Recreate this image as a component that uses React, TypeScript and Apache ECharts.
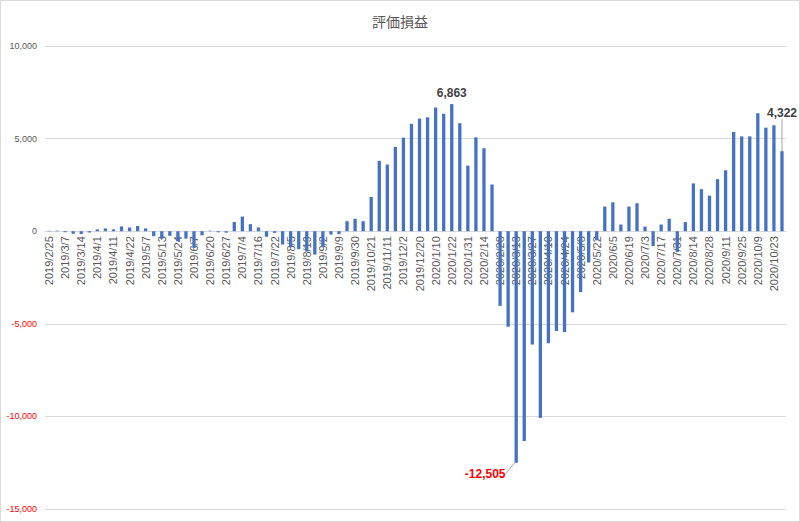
import React, { useEffect, useRef } from "react";
import * as echarts from "echarts";

const TITLE = "評価損益";

const categories: string[] = [
  "2019/2/25", "2019/3/1", "2019/3/7", "2019/3/11", "2019/3/14", "2019/3/22",
  "2019/4/1", "2019/4/5", "2019/4/11", "2019/4/16", "2019/4/22", "2019/4/26",
  "2019/5/7", "2019/5/10", "2019/5/13", "2019/5/17", "2019/5/24", "2019/5/31",
  "2019/6/7", "2019/6/14", "2019/6/20", "2019/6/24", "2019/6/27", "2019/7/1",
  "2019/7/4", "2019/7/10", "2019/7/16", "2019/7/19", "2019/7/22", "2019/7/29",
  "2019/8/5", "2019/8/9", "2019/8/19", "2019/8/26", "2019/9/2", "2019/9/5",
  "2019/9/9", "2019/9/20", "2019/9/30", "2019/10/11", "2019/10/21", "2019/11/1",
  "2019/11/11", "2019/11/22", "2019/12/2", "2019/12/11", "2019/12/20", "2019/12/27",
  "2020/1/10", "2020/1/17", "2020/1/22", "2020/1/27", "2020/1/31", "2020/2/7",
  "2020/2/14", "2020/2/21", "2020/2/28", "2020/3/6", "2020/3/13", "2020/3/19",
  "2020/3/27", "2020/4/3", "2020/4/10", "2020/4/17", "2020/4/24", "2020/5/1",
  "2020/5/8", "2020/5/15", "2020/5/22", "2020/5/29", "2020/6/5", "2020/6/12",
  "2020/6/19", "2020/6/26", "2020/7/3", "2020/7/10", "2020/7/17", "2020/7/24",
  "2020/7/31", "2020/8/7", "2020/8/14", "2020/8/21", "2020/8/28", "2020/9/4",
  "2020/9/11", "2020/9/18", "2020/9/25", "2020/10/2", "2020/10/9", "2020/10/16",
  "2020/10/23", "2020/10/30",
];

const values: number[] = [
  20, 30, -60, -140, -150, -70,
  100, 150, 100, 260, 200, 280,
  150, -270, -400, -250, -550, -400,
  -900, -220, 30, -60, -80, 500,
  790, 380, 200, -300, -90, -720,
  -850, -970, -1100, -1260, -850, -180,
  -160, 540, 670, 540, 1850, 3800,
  3600, 4550, 5050, 5800, 6080, 6150,
  6680, 6340, 6863, 5830, 3540, 5070,
  4480, 2520, -4030, -5160, -12505, -11330,
  -6120, -10080, -6050, -5390, -5450, -4380,
  -3290, -1690, -490, 1330, 1560, 360,
  1330, 1510, 250, -800, 360, 670,
  -1120, 490, 2580, 2270, 1920, 2810,
  3290, 5360, 5120, 5120, 6370, 5590,
  5720, 4322,
];

const Y_MIN = -15000;
const Y_MAX = 10000;
const Y_INTERVAL = 5000;

const fmt = (v: number) => Math.round(v).toLocaleString("en-US");

const W = 800;
const H = 522;
const GRID = { left: 45, right: 14, top: 46, bottom: 13 };

export default function App() {
  const ref = useRef<HTMLDivElement>(null);

  useEffect(() => {
    document.body.style.margin = "0";
    if (!ref.current) return;
    const chart = echarts.init(ref.current, null, { renderer: "svg" });

    const maxIdx = values.indexOf(Math.max(...values));
    const minIdx = values.indexOf(Math.min(...values));
    const lastIdx = values.length - 1;

    // distance from grid bottom up to the zero line, so the category axis sits on zero
    const gridH = H - GRID.top - GRID.bottom;
    const zeroUp = (gridH * (0 - Y_MIN)) / (Y_MAX - Y_MIN);

    const baseLabel = {
      show: true,
      fontSize: 12,
      fontWeight: "bold",
      fontFamily: "Liberation Sans, Arial, sans-serif",
      formatter: (p: any) => fmt(p.value),
    };

    const data = values.map((v, i) => {
      if (i === maxIdx) {
        return { value: v, label: { ...baseLabel, position: "top", distance: 5, color: "#404040" } };
      }
      if (i === minIdx) {
        return {
          value: v,
          label: { ...baseLabel, position: "bottom", distance: 5, color: "#FF0000" },
          labelLine: { show: true, lineStyle: { color: "#a6a6a6", width: 1 } },
        };
      }
      if (i === lastIdx) {
        return {
          value: v,
          label: { ...baseLabel, position: "top", distance: 5, color: "#404040" },
          labelLine: { show: true, lineStyle: { color: "#a6a6a6", width: 1 } },
        };
      }
      return v;
    });

    chart.setOption({
      animation: false,
      backgroundColor: "#ffffff",
      title: {
        text: TITLE,
        left: "center",
        top: 9,
        textStyle: {
          fontSize: 14,
          fontWeight: "normal",
          color: "#595959",
          fontFamily: "Noto Sans CJK JP, sans-serif",
        },
      },
      grid: { ...GRID, containLabel: false, outerBoundsMode: "none" },
      xAxis: {
        type: "category",
        data: categories,
        position: "bottom",
        offset: -zeroUp,
        z: 1,
        axisLine: { onZero: false, lineStyle: { color: "#d9d9d9", width: 1 } },
        axisTick: { show: false },
        axisLabel: {
          interval: 1,
          rotate: 90,
          fontSize: 11,
          margin: 5,
          color: "#595959",
          fontFamily: "Liberation Sans, Arial, sans-serif",
        },
      },
      yAxis: {
        type: "value",
        min: Y_MIN,
        max: Y_MAX,
        interval: Y_INTERVAL,
        axisLine: { show: false },
        axisTick: { show: false },
        splitLine: { lineStyle: { color: "#d9d9d9", width: 1 } },
        axisLabel: {
          fontSize: 9,
          margin: 8,
          fontFamily: "Liberation Sans, Arial, sans-serif",
          formatter: (v: number) => fmt(v),
          color: (v: any) => (Number(v) < 0 ? "#FF0000" : "#595959"),
        },
      },
      series: [
        {
          type: "bar",
          data,
          barWidth: 3.3,
          z: 3,
          itemStyle: { color: "#4472C4" },
          labelLayout: (p: any) => {
            if (p.dataIndex === minIdx) return { dx: -31, dy: 0 };
            if (p.dataIndex === lastIdx) return { dx: 0, dy: -27 };
            return {};
          },
        },
      ],
      graphic: [
        {
          type: "rect",
          shape: { x: 0.5, y: 0.5, width: W - 1, height: H - 1 },
          style: { fill: "none", stroke: "#d9d9d9", lineWidth: 1 },
          silent: true,
          z: -1,
        },
      ],
    });

    return () => chart.dispose();
  }, []);

  return <div ref={ref} style={{ width: W, height: H }} />;
}
